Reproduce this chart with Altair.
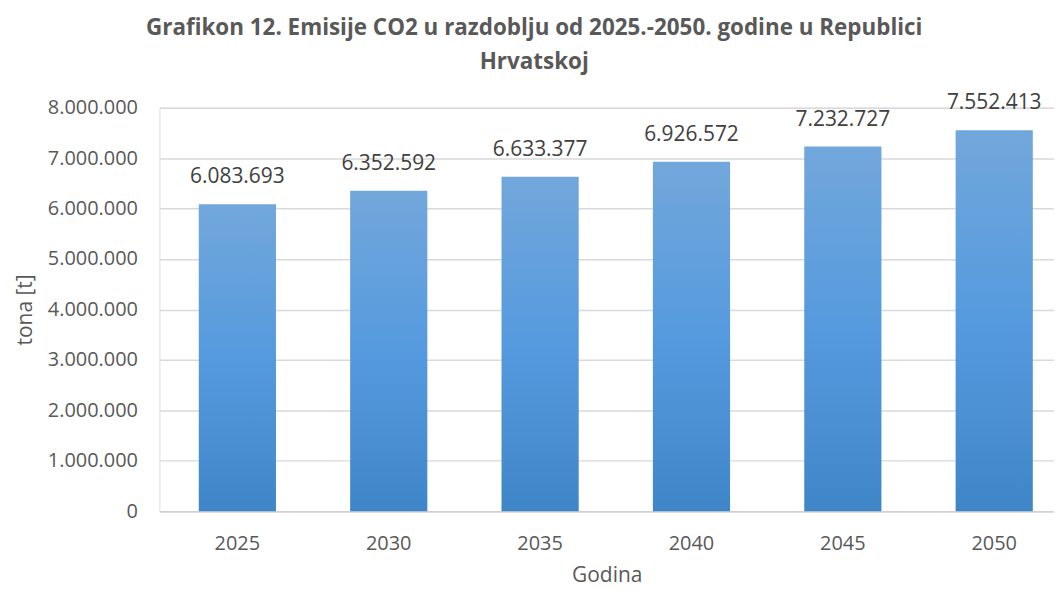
import altair as alt
import pandas as pd

years = ["2025", "2030", "2035", "2040", "2045", "2050"]
emissions = [6083693, 6352592, 6633377, 6926572, 7232727, 7552413]
y_ticks = [0, 1000000, 2000000, 3000000, 4000000, 5000000, 6000000, 7000000, 8000000]

labels = [f"{v:,}".replace(",", ".") for v in emissions]
df = pd.DataFrame({"Godina": years, "Emisije": emissions, "label": labels})

gradient = alt.Gradient(
    gradient="linear",
    x1=0, x2=0, y1=0, y2=1,
    stops=[
        alt.GradientStop(color="#72a7db", offset=0),
        alt.GradientStop(color="#559ade", offset=0.5),
        alt.GradientStop(color="#3f86c8", offset=1),
    ],
)

x_enc = alt.X(
    "Godina:N",
    sort=years,
    title="Godina",
    scale=alt.Scale(paddingInner=0.49, paddingOuter=0.2, align=0.65),
    axis=alt.Axis(
        labelAngle=0, ticks=False, domain=True, domainColor="#d0d0d0", domainWidth=1.5,
        labelFont="Open Sans", labelFontSize=20, labelColor="#595959", labelPadding=22,
        titleFont="Open Sans", titleFontSize=21, titleColor="#595959", titleFontWeight="normal",
        titlePadding=12,
    ),
)
y_enc = alt.Y(
    "Emisije:Q",
    title="tona [t]",
    scale=alt.Scale(domain=[0, 8000000], nice=False),
    axis=alt.Axis(
        values=y_ticks, domain=False, ticks=False, grid=True, gridColor="#d9d9d9", gridWidth=1.5,
        labelExpr="replace(format(datum.value, ',d'), /,/g, '.')",
        labelFont="Open Sans", labelFontSize=20, labelColor="#595959", labelPadding=22,
        titleFont="Open Sans", titleFontSize=21, titleColor="#595959", titleFontWeight="normal",
        titlePadding=12,
    ),
)

bars = alt.Chart(df).mark_bar(color=gradient).encode(x=x_enc, y=y_enc)
text = alt.Chart(df).mark_text(
    dy=-27, font="Open Sans", fontSize=21, color="#404040"
).encode(x=alt.X("Godina:N", sort=years), y="Emisije:Q", text="label:N")

chart = (
    alt.layer(bars, text)
    .properties(
        width=898,
        height=405,
        title=alt.Title(
            ["Grafikon 12. Emisije CO2 u razdoblju od 2025.-2050. godine  u Republici", "Hrvatskoj"],
            font="Open Sans", fontSize=22.5, fontWeight="bold", color="#595959",
            anchor="middle", frame="bounds", lineHeight=34, offset=19,
        ),
        padding={"left": 6, "right": 0, "top": 8, "bottom": 0},
    )
    .configure_view(stroke=None)
    .configure(background="white")
)

chart.save("out.html", embed_options={"renderer": "svg", "actions": False})
